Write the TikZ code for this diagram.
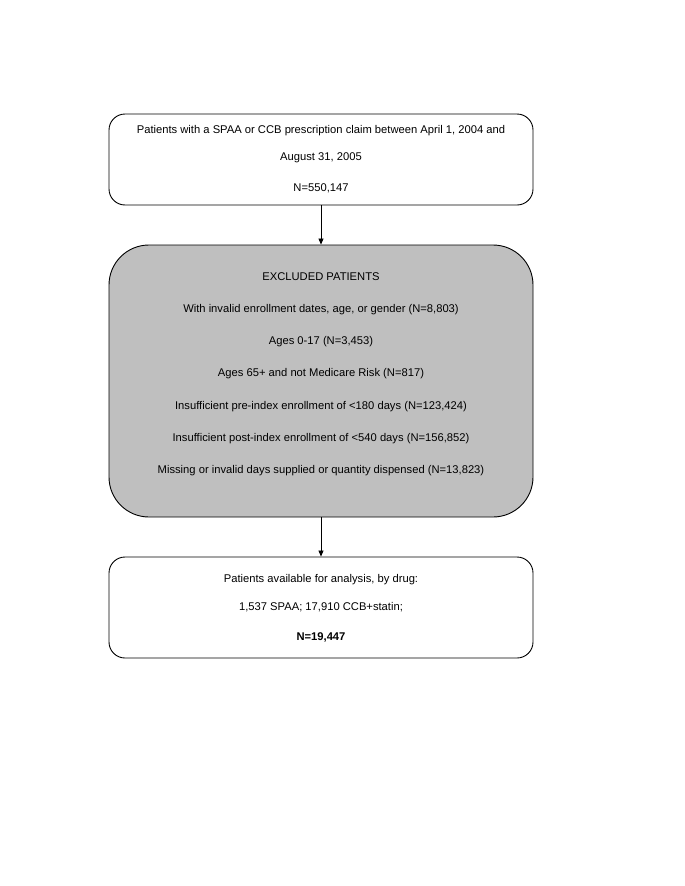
\documentclass[tikz,border=0pt]{standalone}
\usepackage{fontspec}
\setmainfont{Liberation Sans}
\usetikzlibrary{arrows.meta}
\begin{document}
\begin{tikzpicture}[x=1pt,y=-1pt,
  box/.style={draw=black,line width=0.9pt,minimum width=424pt,inner sep=0pt},
  txt/.style={font=\fontsize{11.2pt}{13pt}\selectfont,inner sep=0pt,anchor=center},
  conn/.style={draw=black,line width=0.8pt,-{Triangle[length=6pt,width=5pt]}}]
\useasboundingbox (0,0) rectangle (685,886);
\node[box,rounded corners=16pt,minimum height=91pt] (b1) at (321,159.5) {};
\node[box,rounded corners=40pt,minimum height=272pt,fill=black!25] (b2) at (321,381) {};
\node[box,rounded corners=16pt,minimum height=101pt] (b3) at (321,607.5) {};
\draw[conn] (b1.south) -- (b2.north);
\draw[conn] (b2.south) -- (b3.north);
\node[txt] (t11) at (321,131) {Patients with a SPAA or CCB prescription claim between April 1, 2004 and};
\node[txt] (t12) at (321,158) {August 31, 2005};
\node[txt] (t13) at (321,188) {N=550,147};
\node[txt] (t21) at (321,277) {EXCLUDED PATIENTS};
\node[txt] (t22) at (321,310) {With invalid enrollment dates, age, or gender (N=8,803)};
\node[txt] (t23) at (321,342) {Ages 0-17 (N=3,453)};
\node[txt] (t24) at (321,374) {Ages 65+ and not Medicare Risk (N=817)};
\node[txt] (t25) at (321,407) {Insufficient pre-index enrollment of <180 days (N=123,424)};
\node[txt] (t26) at (321,439) {Insufficient post-index enrollment of <540 days (N=156,852)};
\node[txt] (t27) at (321,471) {Missing or invalid days supplied or quantity dispensed (N=13,823)};
\node[txt] (t31) at (321,580) {Patients available for analysis, by drug:};
\node[txt] (t32) at (321,607) {1,537 SPAA; 17,910 CCB+statin;};
\node[txt,font=\fontsize{11.2pt}{13pt}\selectfont\bfseries] (t33) at (321,637) {N=19,447};
\end{tikzpicture}
\end{document}
